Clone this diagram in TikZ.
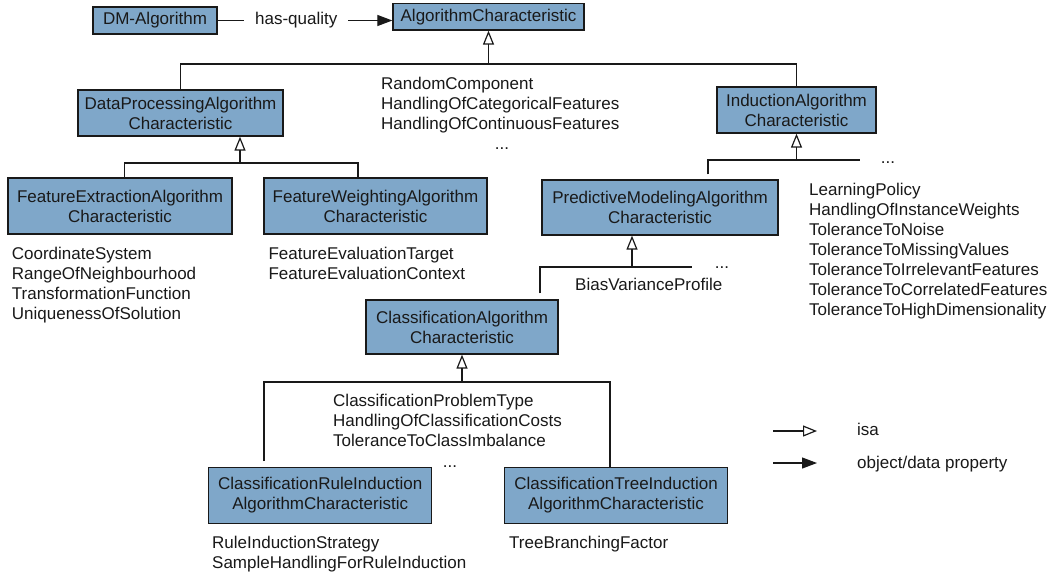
\documentclass[tikz,border=0pt]{standalone}
\usepackage{fontspec}
\setmainfont{Liberation Sans}
\usetikzlibrary{arrows.meta,calc}
\definecolor{boxfill}{RGB}{127,167,201}
\definecolor{ink}{RGB}{25,25,25}
\tikzset{
  box/.style={draw=ink, line width=1.3pt, fill=boxfill, align=center, inner sep=0pt,
    font=\fontsize{17}{20}\selectfont, text=ink},
  lbl/.style={anchor=base west, inner sep=0pt, font=\fontsize{17}{20}\selectfont, text=ink},
  dots/.style={anchor=base, inner sep=0pt, font=\fontsize{17}{20}\selectfont, text=ink},
  link/.style={draw=ink, line width=1.2pt},
  isa/.style={link, -{Triangle[open, length=14pt, width=11pt, line width=1.2pt]}},
  prop/.style={link, -{Triangle[length=15pt, width=11pt]}}
}
\begin{document}
\begin{tikzpicture}[x=1pt, y=-1pt]
\fill[white] (0,0) rectangle (1056,574);
\useasboundingbox (0,0) rectangle (1056,574);

% boxes
\node[box, minimum width=124pt, minimum height=27pt] (dm) at (155,20.5) {DM-Algorithm};
\node[box, minimum width=191pt, minimum height=26.5pt] (alg) at (488.5,16.75) {AlgorithmCharacteristic};
\node[box, minimum width=205pt, minimum height=46pt] (dp) at (180.5,113) {DataProcessingAlgorithm\\Characteristic};
\node[box, minimum width=159pt, minimum height=46pt] (ind) at (796.5,110) {InductionAlgorithm\\Characteristic};
\node[box, minimum width=224pt, minimum height=56pt] (fe) at (120,206) {FeatureExtractionAlgorithm\\Characteristic};
\node[box, minimum width=223pt, minimum height=56pt] (fw) at (375.5,206) {FeatureWeightingAlgorithm\\Characteristic};
\node[box, minimum width=236pt, minimum height=55pt] (pm) at (660,207.5) {PredictiveModelingAlgorithm\\Characteristic};
\node[box, minimum width=192pt, minimum height=54pt] (ca) at (462,327) {ClassificationAlgorithm\\Characteristic};
\node[box, minimum width=223pt, minimum height=55.6pt] (ri) at (320.2,495.5) {ClassificationRuleInduction\\AlgorithmCharacteristic};
\node[box, minimum width=223pt, minimum height=55.6pt] (ti) at (616,495.5) {ClassificationTreeInduction\\AlgorithmCharacteristic};

% has-quality
\draw[prop] (dm.east) -- (dm.east -| alg.west)
  node[pos=0.45, fill=white, inner xsep=11pt, inner ysep=1pt, font=\fontsize{17}{20}\selectfont, text=ink] (hq) {has-quality};

% top hierarchy
\coordinate (jA) at (488.5,64);
\draw[link] (dp.north) |- (jA) -| (ind.north);
\draw[isa] (jA) -- (alg.south);

% data processing hierarchy
\coordinate (jB) at (240,163);
\draw[link] ($(fe.north)+(4.3,0)$) |- (jB) -| ($(fw.north)+(-17.5,0)$);
\draw[isa] (jB) -- (jB |- dp.south);

% induction hierarchy
\coordinate (jC) at (796.5,160);
\coordinate (indMore) at (860,160);
\draw[link] ($(pm.north)+(48,-5)$) |- (jC) -- (indMore);
\draw[isa] (jC) -- (ind.south);

% predictive hierarchy
\coordinate (jD) at (632,267);
\coordinate (pmMore) at (692,267);
\draw[link] ($(ca.north)+(78,-6)$) |- (jD) -- (pmMore);
\draw[isa] (jD) -- (jD |- pm.south);

% classification hierarchy
\coordinate (jE) at (462,382);
\draw[link] ($(ri.north)+(-56.2,-6)$) |- (jE) -| ($(ti.north)+(-6,0)$);
\draw[isa] (jE) -- (ca.south);

% property lists
\foreach \t [count=\i from 0] in {RandomComponent, HandlingOfCategoricalFeatures, HandlingOfContinuousFeatures}
  \node[lbl] (gl\i) at (381,{89+20*\i}) {\t};
\node[dots] (gdots) at (502,149) {...};

\foreach \t [count=\i from 0] in {CoordinateSystem, RangeOfNeighbourhood, TransformationFunction, UniquenessOfSolution}
  \node[lbl] (fel\i) at (11.7,{259+20*\i}) {\t};

\foreach \t [count=\i from 0] in {FeatureEvaluationTarget, FeatureEvaluationContext}
  \node[lbl] (fwl\i) at (268.3,{259+20*\i}) {\t};

\node[dots] (idots) at (888,163) {...};
\foreach \t [count=\i from 0] in {LearningPolicy, HandlingOfInstanceWeights, ToleranceToNoise, ToleranceToMissingValues, ToleranceToIrrelevantFeatures, ToleranceToCorrelatedFeatures, ToleranceToHighDimensionality}
  \node[lbl] (il\i) at (809,{195+20*\i}) {\t};

\node[dots] (pdots) at (722,268) {...};
\node[lbl] (bvp) at (575,290.5) {BiasVarianceProfile};

\foreach \t [count=\i from 0] in {ClassificationProblemType, HandlingOfClassificationCosts, ToleranceToClassImbalance}
  \node[lbl] (cl\i) at (333,{406.5+20*\i}) {\t};
\node[dots] (cdots) at (450,467) {...};

\foreach \t [count=\i from 0] in {RuleInductionStrategy, SampleHandlingForRuleInduction}
  \node[lbl] (rl\i) at (212,{548+20*\i}) {\t};
\node[lbl] (tl0) at (509,548) {TreeBranchingFactor};

% legend
\coordinate (isaA) at (773,431);
\coordinate (isaB) at (817,431);
\draw[isa] (isaA) -- (isaB);
\node[lbl] (isaL) at (857,435) {isa};
\coordinate (prA) at (773,463);
\coordinate (prB) at (817,463);
\draw[prop] (prA) -- (prB);
\node[lbl] (prL) at (857,468) {object/data property};
\end{tikzpicture}
\end{document}
